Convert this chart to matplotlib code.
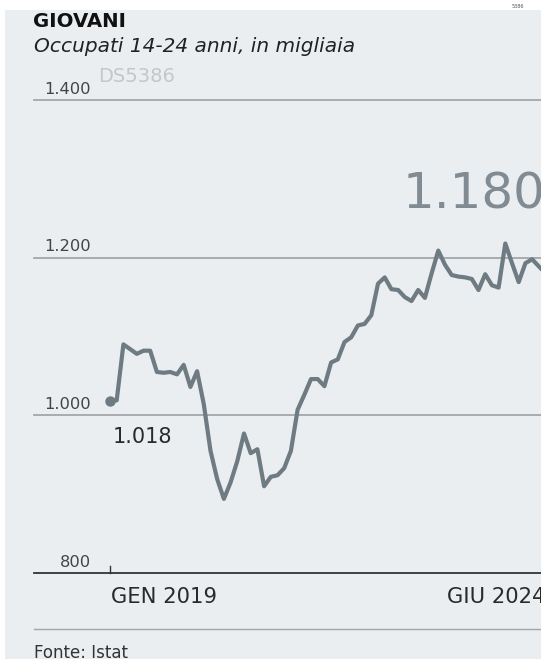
import matplotlib.pyplot as plt
from matplotlib.patches import Rectangle

# occupati 14-24 anni, migliaia, mensile gen 2019 - giu 2024
mesi_label = ["GEN 2019", "GIU 2024"]
mesi_pos = [0, 65]
occupati = [1018, 1019, 1090, 1084, 1078, 1082, 1082, 1055, 1054, 1055,
            1052, 1064, 1036, 1056, 1014, 955, 919, 894, 915, 942,
            977, 952, 957, 910, 922, 924, 933, 955, 1007, 1026,
            1046, 1046, 1037, 1067, 1071, 1093, 1099, 1114, 1116, 1127,
            1167, 1175, 1160, 1159, 1150, 1145, 1159, 1149, 1180, 1209,
            1191, 1178, 1176, 1175, 1173, 1159, 1179, 1165, 1162, 1218,
            1193, 1169, 1193, 1198, 1189, 1180]
yticks = [800, 1000, 1200, 1400]

W, H = 541, 659
bg = '#ebeef1'
linea = '#6e7b83'

def fx(px):
    return px / W

def fy(py):
    return 1 - py / H

def num(v):
    return f"{v:,}".replace(",", ".")

fig = plt.figure(figsize=(W / 100, H / 100), dpi=100)
fig.patch.set_facecolor('white')
fig.patches.append(Rectangle((fx(5), 0), fx(536), fy(10), transform=fig.transFigure,
                             facecolor=bg, edgecolor='none', zorder=-5))

# assi: pixel 34..541 in x, 100..573 in y
ax = fig.add_axes([fx(34), fy(573), fx(541 - 34), (573 - 100) / H])
ax.set_zorder(2)
ax.patch.set_visible(False)
for s in ax.spines.values():
    s.set_visible(False)
ax.set_xticks([])
ax.set_yticks([])
ax.set_xlim((34 - 110) / 6.7, (541 - 110) / 6.7)
ax.set_ylim(800, 1400)

for v in yticks:
    if v == 800:
        ax.axhline(v, color='#333333', lw=1.3, clip_on=False)
    else:
        ax.axhline(v, color='#a3a6a9', lw=1.3, clip_on=False)
    ax.annotate(num(v), xy=(-2.8, v), xytext=(0, 4.5), textcoords='offset points',
                ha='right', va='baseline', fontsize=11.7, color='#444444')

# tick gen 2019
ax.plot([0, 0], [800, 800 + 7 * 1.27], color='#333333', lw=1, clip_on=False)

x = list(range(len(occupati)))
ax.plot(x, occupati, color=linea, lw=3, solid_joinstyle='round', solid_capstyle='round')
ax.plot(x[0], occupati[0], 'o', color=linea, markersize=6.5)

ax.annotate(num(occupati[0]), xy=(x[0], occupati[0]), xytext=(2, -30),
            textcoords='offset points', ha='left', va='baseline',
            fontsize=15, color='#2a2a2a')
ax.annotate(num(occupati[-1]), xy=(x[-1], occupati[-1]), xytext=(0, 47),
            textcoords='offset points', ha='right', va='baseline',
            fontsize=36, color='#808b93', annotation_clip=False)

ax.annotate(mesi_label[0], xy=(mesi_pos[0], 800), xytext=(0.5, -21.6),
            textcoords='offset points', ha='left', va='baseline',
            fontsize=15.2, color='#2a2a2a')
ax.annotate(mesi_label[1], xy=(mesi_pos[1], 800), xytext=(0, -21.6),
            textcoords='offset points', ha='right', va='baseline',
            fontsize=15.2, color='#2a2a2a', annotation_clip=False)

# testi
fig.text(fx(33), fy(27), "GIOVANI", fontsize=14.2, fontweight='bold', color='#111111',
         va='baseline')
fig.text(fx(34), fy(52), "Occupati 14-24 anni, in migliaia", fontsize=14.5,
         style='italic', color='#222222', va='baseline')
fig.text(fx(98), fy(81.5), "DS5386", fontsize=14, color='#c4c7ca', va='baseline')
fig.text(fx(512), fy(7.5), "5386", fontsize=3.5, color='#555555', va='baseline')

# linea fonte
fig.add_artist(plt.Line2D([fx(34), 1], [fy(629), fy(629)], color='#a3a6a9', lw=1))
fig.text(fx(34), fy(658), "Fonte: Istat", fontsize=12, color='#333333', va='baseline')

plt.savefig('out.png', dpi=100, facecolor=fig.get_facecolor())
